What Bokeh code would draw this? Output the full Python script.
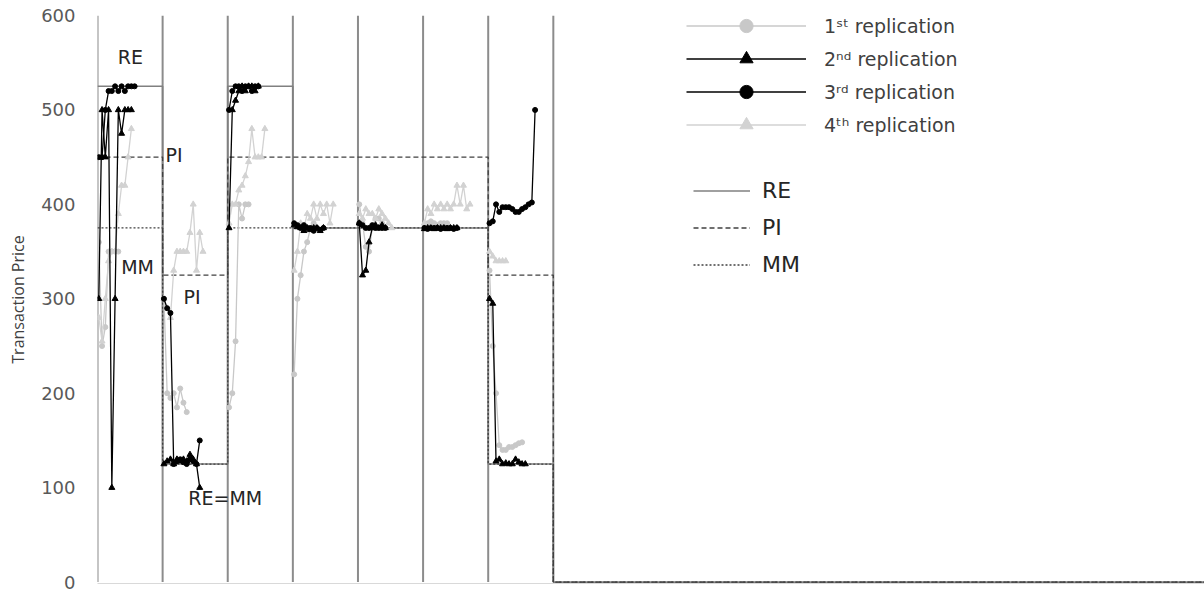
from bokeh.plotting import figure
from bokeh.models import Range1d, Legend, LegendItem, FixedTicker, ColumnDataSource
from bokeh.core.properties import value
from bokeh.embed import file_html
from bokeh.resources import INLINE

# ---------------- data ----------------
SLOTS = 20                      # trade slots per period on the x scale
X_END = 340                     # x extent of the (mostly empty) axis
period_starts = [0, 20, 40, 60, 80, 100, 120, 140]

RE = [525, 125, 525, 375, 375, 375, 125, 0]
PI = [450, 325, 450, 450, 450, 450, 325, 0]
MM = [375, 125, 375, 375, 375, 375, 125, 0]

y_ticks = [0, 100, 200, 300, 400, 500, 600]

# transaction prices, one list per period
rep1 = [
    [360, 250, 270, 350, 350, 350, 350],
    [300, 200, 195, 200, 185, 205, 190, 180],
    [185, 200, 255, 400, 385, 400, 400],
    [220, 300, 325, 350, 360, 375, 380],
    [400, 380, 355, 350, 375, 385, 385, 380],
    [375, 380, 382, 380, 378, 380, 380, 380],
    [330, 250, 200, 145, 140, 140, 143, 143, 145, 147, 148],
]
rep2 = [
    [300, 500, 450, 500, 100, 300, 500, 475, 500, 500, 500],
    [125, 128, 130, 125, 130, 128, 130, 128, 135, 130, 125, 100],
    [375, 500, 510, 520, 525, 520, 525, 525, 520, 525],
    [378, 376, 375, 372, 375, 373, 375, 375, 372, 375],
    [380, 325, 330, 360, 375, 378, 375, 378, 375],
    [374, 375, 375, 374, 375, 375, 375, 374, 375, 375, 375],
    [300, 295, 128, 130, 125, 126, 125, 125, 130, 127, 125, 125],
]
rep3 = [
    [450, 450, 500, 520, 520, 525, 520, 525, 520, 525, 525, 525],
    [300, 290, 285, 125, 128, 130, 127, 125, 130, 128, 125, 150],
    [500, 520, 525, 525, 520, 525, 525, 520, 525, 525],
    [380, 378, 375, 378, 375, 375, 372, 375, 373, 375],
    [380, 378, 375, 375, 378, 375, 375, 375, 375],
    [375, 374, 375, 375, 375, 374, 375, 375, 375, 374, 375],
    [380, 382, 400, 392, 397, 397, 397, 395, 392, 392, 395, 397, 400, 402, 500],
]
rep4 = [
    [280, 255, 300, 340, 350, 350, 390, 420, 420, 450, 480],
    [300, 290, 280, 330, 350, 350, 350, 350, 370, 400, 330, 370, 350],
    [380, 400, 400, 415, 420, 430, 445, 480, 450, 450, 450, 480],
    [330, 350, 380, 375, 390, 385, 400, 385, 400, 390, 400, 380, 400],
    [390, 385, 395, 390, 390, 385, 395, 390, 385, 380, 375],
    [380, 395, 390, 400, 395, 400, 395, 400, 395, 400, 420, 400, 420, 395, 400],
    [350, 345, 340, 340, 340, 340],
]

legend_labels = ["1ˢᵗ replication", "2ⁿᵈ replication", "3ʳᵈ replication", "4ᵗʰ replication"]

ann_text = ["RE", "PI", "MM", "PI", "RE=MM"]
ann_x = [10.1, 20.9, 12.3, 26.4, 27.9]
ann_y = [556, 452, 334, 302, 89]
ann_align = ["center", "left", "center", "left", "left"]

# ---------------- figure ----------------
p = figure(width=1204, height=594, x_range=Range1d(0, X_END), y_range=Range1d(-1.5, 600),
           output_backend="svg", toolbar_location=None,
           min_border_left=97, min_border_right=0, min_border_top=15, min_border_bottom=11)
p.outline_line_color = None
p.xgrid.visible = False
p.ygrid.visible = False
p.background_fill_color = "white"

p.xaxis.ticker = FixedTicker(ticks=[])
p.xaxis.axis_line_color = "#D9D9D9"
p.xaxis.major_tick_line_color = None
p.xaxis.minor_tick_line_color = None
p.xaxis.major_tick_out = 0

p.yaxis.ticker = FixedTicker(ticks=y_ticks)
p.yaxis.axis_line_color = None
p.yaxis.major_tick_line_color = None
p.yaxis.minor_tick_line_color = None
p.yaxis.major_tick_out = 0
p.yaxis.major_tick_in = 0
p.yaxis.major_label_standoff = 22
p.yaxis.major_label_text_font = "DejaVu Sans"
p.yaxis.major_label_text_font_size = "18px"
p.yaxis.major_label_text_color = "#595959"
p.yaxis.axis_label = "Transaction Price"
p.yaxis.axis_label_text_font = "Open Sans"
p.yaxis.axis_label_text_font_style = "normal"
p.yaxis.axis_label_text_font_size = "16px"
p.yaxis.axis_label_text_color = "#404040"
p.yaxis.axis_label_standoff = 9

# period separators
p.segment(x0=period_starts, y0=[0] * len(period_starts), x1=period_starts,
          y1=[600] * len(period_starts), line_color="#8C8C8C", line_width=2)

# benchmark lines
step_x = period_starts + [X_END]
r_re = p.step(step_x, RE + [RE[-1]], mode="after", line_color="#808080", line_width=1.6)
r_pi = p.step(step_x, PI + [PI[-1]], mode="after", line_color="#404040", line_width=1.3,
              line_dash="5 3")
r_mm = p.step(step_x, MM + [MM[-1]], mode="after", line_color="#404040", line_width=1.3,
              line_dash="2 2")


def series(rep):
    xs, ys, fx, fy = [], [], [], []
    for k, vals in enumerate(rep):
        xx = [period_starts[k] + 0.4 + i for i in range(len(vals))]
        xs.append(xx)
        ys.append(list(vals))
        fx += xx
        fy += list(vals)
    return xs, ys, fx, fy


styles = [
    (rep1, "#C8C8C8", "circle", 5),
    (rep4, "#D2D2D2", "triangle", 6),
    (rep2, "#000000", "triangle", 6),
    (rep3, "#000000", "circle", 5),
]
rend = {}
for rep, col, mk, sz in styles:
    xs, ys, fx, fy = series(rep)
    ml = p.multi_line(xs, ys, line_color=col, line_width=1.3)
    sc = p.scatter(fx, fy, marker=mk, size=sz, fill_color=col, line_color=col)
    rend[id(rep)] = [ml, sc]

# annotations
src = ColumnDataSource(dict(x=ann_x, y=ann_y, t=ann_text, a=ann_align))
p.text(x="x", y="y", text="t", text_align="a", text_baseline="middle", source=src,
       text_font=value("DejaVu Sans"), text_font_size="19px", text_color="#262626")

# legends
leg1 = Legend(items=[
    LegendItem(label=legend_labels[0], renderers=rend[id(rep1)]),
    LegendItem(label=legend_labels[1], renderers=rend[id(rep2)]),
    LegendItem(label=legend_labels[2], renderers=rend[id(rep3)]),
    LegendItem(label=legend_labels[3], renderers=rend[id(rep4)]),
], location=(589, 442), glyph_width=120, glyph_height=33, label_height=33, spacing=0,
    padding=0, margin=0, label_standoff=18, border_line_color=None, background_fill_alpha=0,
    label_text_font="DejaVu Sans", label_text_font_size="19px", label_text_color="#404040")
leg2 = Legend(items=[
    LegendItem(label="RE", renderers=[r_re]),
    LegendItem(label="PI", renderers=[r_pi]),
    LegendItem(label="MM", renderers=[r_mm]),
], location=(596, 300), glyph_width=57, glyph_height=37, label_height=37, spacing=0,
    padding=0, margin=0, label_standoff=12, border_line_color=None, background_fill_alpha=0,
    label_text_font="DejaVu Sans", label_text_font_size="22px", label_text_color="#262626")
p.add_layout(leg1)
p.add_layout(leg2)

open("out.html", "w").write(file_html(p, INLINE))
